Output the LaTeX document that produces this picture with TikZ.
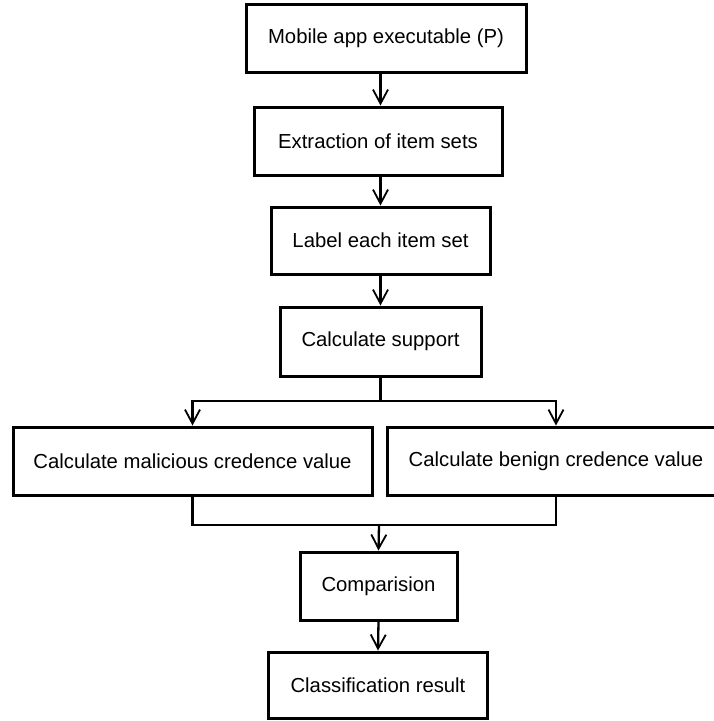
\documentclass[tikz,border=0pt]{standalone}
\usepackage{fontspec}
\setmainfont{Liberation Sans}
\usetikzlibrary{arrows.meta}

\tikzset{
  stepbox/.style={draw, line width=3pt, fill=white, inner sep=0pt,
    font=\fontsize{20.3}{24}\selectfont},
  conn/.style={line width=2.3pt},
  arr/.style={conn, -{Straight Barb[length=14pt, width=15pt, line width=1.8pt]}}
}

\begin{document}
\begin{tikzpicture}[x=1pt, y=-1pt]
    \useasboundingbox (0,0) rectangle (714,721);
    \clip (0,0) rectangle (714,721);
    % boxes
    \node[stepbox, minimum width=280pt, minimum height=68pt] (exe) at (386,38)  {Mobile app executable (P)};
    \node[stepbox, minimum width=248pt, minimum height=68pt] (ext) at (378,141) {Extraction of item sets};
    \node[stepbox, minimum width=219pt, minimum height=67pt] (lbl) at (380.5,240.5) {Label each item set};
    \node[stepbox, minimum width=201pt, minimum height=69pt] (sup) at (380.5,341.5) {Calculate support};
    \node[stepbox, minimum width=359pt, minimum height=68pt] (mal) at (192.5,461) {Calculate malicious credence value};
    \node[stepbox, minimum width=338pt, minimum height=68pt] (ben) at (556,461) {Calculate benign credence value};
    \node[stepbox, minimum width=157pt, minimum height=68pt] (cmp) at (378.5,586) {Comparision};
    \node[stepbox, minimum width=219pt, minimum height=66pt] (res) at (378,685) {Classification result};
    \coordinate (split) at (380.5,401);
    \coordinate (merge) at (379,525);
    % connectors
    \draw[arr] (exe.south -| sup.north) -- (ext.north -| sup.north);
    \draw[arr] (ext.south -| sup.north) -- (lbl.north -| sup.north);
    \draw[arr] (lbl.south -| sup.north) -- (sup.north);
    \draw[conn] (sup.south) -- (split);
    \draw[arr] (split) -| (mal.north);
    \draw[arr] (split) -| (ben.north);
    \draw[conn] (mal.south) |- (merge) -| (ben.south);
    \draw[arr] (merge) -- (cmp.north);
    \draw[arr] (cmp.south) -- (res.north);
\end{tikzpicture}
\end{document}
